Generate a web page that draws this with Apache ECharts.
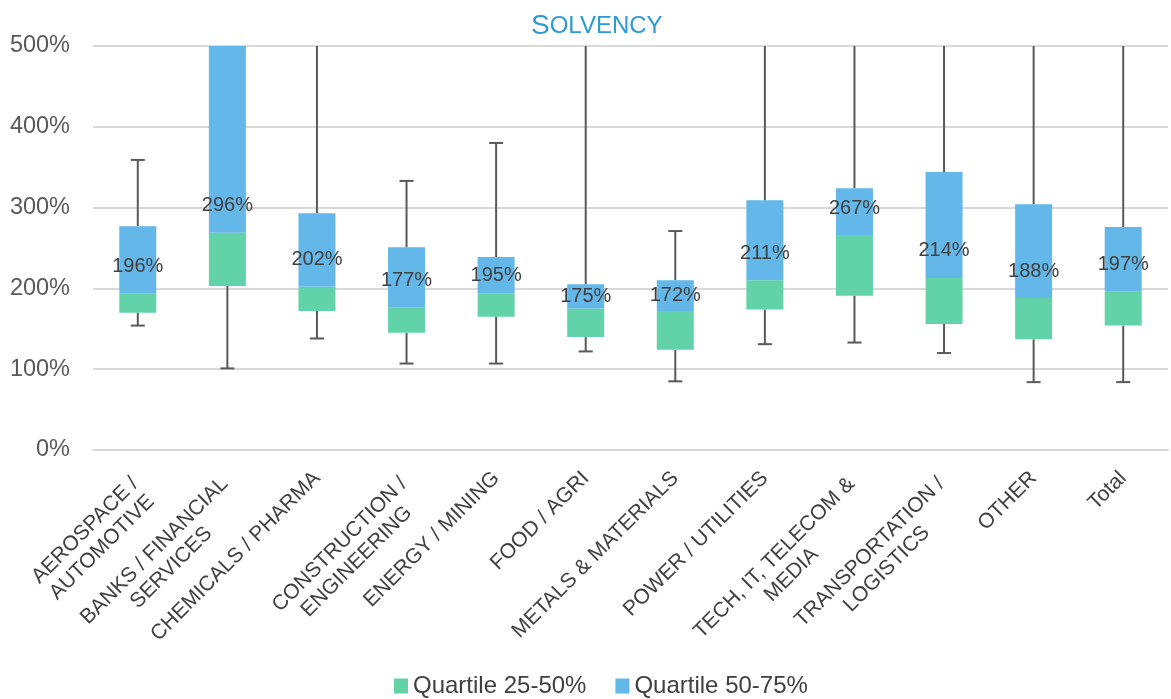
<!DOCTYPE html>
<html><head><meta charset="utf-8">
<script src="https://cdn.jsdelivr.net/npm/echarts@6/dist/echarts.min.js"></script>
<style>html,body{margin:0;padding:0;background:#fff}#c{width:1171px;height:699px}</style>
</head><body><div id="c"></div>
<script>
// ---- data ----
const categories = [
  'AEROSPACE /\nAUTOMOTIVE', 'BANKS / FINANCIAL\nSERVICES', 'CHEMICALS / PHARMA',
  'CONSTRUCTION /\nENGINEERING', 'ENERGY / MINING', 'FOOD / AGRI', 'METALS & MATERIALS',
  'POWER / UTILITIES', 'TECH, IT, TELECOM &\nMEDIA', 'TRANSPORTATION /\nLOGISTICS', 'OTHER', 'Total'
];
const whiskerMin   = [154, 101, 138, 107, 107, 122,  85, 131, 133, 120,  84,  84];
const quartile1    = [170, 203, 172, 145, 165, 140, 124, 174, 191, 156, 137, 154];
const median       = [194, 269, 202, 176, 194, 175, 172, 210, 266, 213, 188, 196];
const quartile3    = [277, 600, 293, 251, 239, 205, 210, 309, 324, 344, 304, 276]; // banks: beyond axis (estimate)
const whiskerMax   = [359, 600, 600, 333, 380, 600, 271, 600, 600, 600, 600, 600]; // 600 = beyond axis (estimate)
const medianLabels = [196, 296, 202, 177, 195, 175, 172, 211, 267, 214, 188, 197];
const yMin = 0, yMax = 500, yStep = 100;
const seriesNames = ['Quartile 25-50%', 'Quartile 50-75%'];

// ---- styles ----
const GREEN = '#62D3A8', BLUE = '#63B7E9', WHISKER = '#595959';
const FONT = 'Liberation Sans, Arial, sans-serif';

const chart = echarts.init(document.getElementById('c'));

const blueData = quartile3.map((v, i) => {
  const span = v - median[i];
  return {
    value: span,
    label: span < 50 ? { position: 'inside' } : { position: 'insideBottom', distance: 17 }
  };
});

// multi-line category labels sit a little lower in the reference
const categoryItems = categories.map(c =>
  c.indexOf('\n') >= 0 ? { value: c, textStyle: { padding: [28, 6, 0, 0] } } : c
);

chart.setOption({
  animation: false,
  textStyle: { fontFamily: FONT },
  title: {
    text: '{a|S}{b|OLVENCY}',
    left: 526, top: 7,
    textStyle: {
      fontWeight: 'normal',
      rich: {
        a: { fontSize: 28, color: '#2A9AD8', fontFamily: FONT, fontWeight: 'normal' },
        b: { fontSize: 24, color: '#2A9AD8', fontFamily: FONT, fontWeight: 'normal' }
      }
    }
  },
  grid: { left: 93, right: 3, top: 46, bottom: 249, containLabel: false },
  legend: {
    data: seriesNames, bottom: 1, left: 394, icon: 'rect', padding: 0,
    itemWidth: 14, itemHeight: 15, itemGap: 29,
    textStyle: { fontSize: 24, color: '#404040', fontFamily: FONT }
  },
  xAxis: {
    type: 'category', data: categoryItems,
    axisLine: { show: true, lineStyle: { color: '#D9D9D9', width: 2 } },
    axisTick: { show: false },
    axisLabel: {
      rotate: 45, interval: 0, margin: 25,
      formatter: v => v.split('\n').map(s => '{c|' + s + '}').join('\n'),
      rich: { c: { align: 'center', fontSize: 21, color: '#404040', lineHeight: 24, fontFamily: FONT } }
    }
  },
  yAxis: {
    type: 'value', min: yMin, max: yMax, interval: yStep,
    axisLine: { show: false }, axisTick: { show: false },
    axisLabel: { formatter: '{value}%', fontSize: 23.5, color: '#595959', margin: 23, fontFamily: FONT },
    splitLine: { lineStyle: { color: '#D9D9D9', width: 2 } }
  },
  series: [
    {
      type: 'bar', stack: 'box', silent: true, barWidth: 37,
      itemStyle: { color: 'transparent' }, data: quartile1
    },
    {
      name: seriesNames[0], type: 'bar', stack: 'box', barWidth: 37,
      itemStyle: { color: GREEN },
      data: median.map((m, i) => m - quartile1[i])
    },
    {
      name: seriesNames[1], type: 'bar', stack: 'box', barWidth: 37,
      itemStyle: { color: BLUE },
      label: {
        show: true, fontSize: 20, color: '#404040', fontFamily: FONT, lineHeight: 20,
        formatter: p => medianLabels[p.dataIndex] + '%'
      },
      data: blueData, z: 3
    },
    {
      type: 'custom', silent: true, z: 2,
      data: categories.map((c, i) => [i, whiskerMin[i], quartile1[i], quartile3[i], whiskerMax[i]]),
      renderItem: (params, api) => {
        const i = api.value(0);
        const lo = api.value(1), q1 = api.value(2), q3 = api.value(3), hi = api.value(4);
        const x = api.coord([i, lo])[0];
        const yLo = api.coord([i, lo])[1];
        const yQ1 = api.coord([i, q1])[1];
        const yQ3 = api.coord([i, Math.min(q3, yMax)])[1];
        const yHi = api.coord([i, Math.min(hi, yMax)])[1];
        const st = { stroke: WHISKER, lineWidth: 2 };
        const ch = [
          { type: 'line', shape: { x1: x, y1: yQ1, x2: x, y2: yLo }, style: st },
          { type: 'line', shape: { x1: x - 7, y1: yLo, x2: x + 7, y2: yLo }, style: st }
        ];
        if (q3 < yMax) {
          ch.push({ type: 'line', shape: { x1: x, y1: yQ3, x2: x, y2: yHi }, style: st });
          if (hi <= yMax) ch.push({ type: 'line', shape: { x1: x - 7, y1: yHi, x2: x + 7, y2: yHi }, style: st });
        }
        return { type: 'group', children: ch };
      }
    }
  ]
});
</script></body></html>
